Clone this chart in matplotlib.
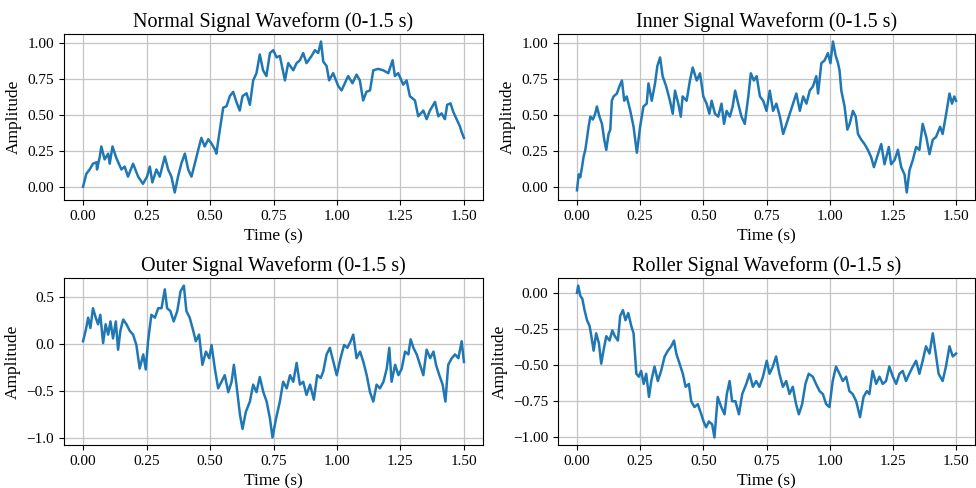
import matplotlib
matplotlib.use("Agg")
import matplotlib.pyplot as plt

plt.rcParams['font.family'] = ['Liberation Serif', 'DejaVu Serif']

titles = ["Normal Signal Waveform (0-1.5 s)", "Inner Signal Waveform (0-1.5 s)",
          "Outer Signal Waveform (0-1.5 s)", "Roller Signal Waveform (0-1.5 s)"]
xlabel = "Time (s)"
ylabel = "Amplitude"

normal_t = [0.000, 0.013, 0.026, 0.039, 0.053, 0.055, 0.066, 0.072, 0.085, 0.099, 0.105, 0.116, 0.131,
            0.151, 0.164, 0.177, 0.197, 0.217, 0.236, 0.252, 0.263, 0.273, 0.289, 0.302, 0.322, 0.335,
            0.348, 0.361, 0.374, 0.387, 0.401, 0.414, 0.427, 0.440, 0.457, 0.466, 0.479, 0.493, 0.506,
            0.519, 0.525, 0.539, 0.552, 0.565, 0.578, 0.591, 0.604, 0.617, 0.628, 0.644, 0.657, 0.670,
            0.683, 0.696, 0.709, 0.722, 0.736, 0.749, 0.762, 0.775, 0.795, 0.808, 0.828, 0.841, 0.854,
            0.867, 0.880, 0.900, 0.913, 0.926, 0.937, 0.946, 0.959, 0.969, 0.985, 1.005, 1.018, 1.031,
            1.044, 1.061, 1.077, 1.090, 1.103, 1.116, 1.130, 1.143, 1.162, 1.182, 1.202, 1.219, 1.228,
            1.241, 1.261, 1.274, 1.287, 1.307, 1.320, 1.340, 1.353, 1.366, 1.386, 1.399, 1.412, 1.425,
            1.434, 1.447, 1.458, 1.471, 1.484, 1.491, 1.500]
normal_v = [0.00, 0.09, 0.12, 0.16, 0.17, 0.12, 0.21, 0.28, 0.19, 0.23, 0.16, 0.28, 0.20,
            0.12, 0.14, 0.07, 0.16, 0.07, 0.02, 0.07, 0.14, 0.03, 0.12, 0.07, 0.21, 0.12,
            0.07, -0.04, 0.07, 0.16, 0.23, 0.12, 0.07, 0.16, 0.28, 0.34, 0.28, 0.33, 0.30,
            0.26, 0.23, 0.40, 0.55, 0.56, 0.63, 0.66, 0.59, 0.53, 0.63, 0.65, 0.57, 0.74,
            0.79, 0.92, 0.81, 0.77, 0.93, 0.95, 0.90, 0.91, 0.74, 0.86, 0.81, 0.86, 0.88,
            0.93, 0.86, 0.91, 0.95, 0.93, 1.01, 0.87, 0.84, 0.74, 0.79, 0.70, 0.67, 0.72,
            0.77, 0.72, 0.78, 0.74, 0.60, 0.66, 0.67, 0.81, 0.82, 0.81, 0.79, 0.88, 0.77,
            0.79, 0.71, 0.74, 0.63, 0.60, 0.49, 0.53, 0.47, 0.53, 0.59, 0.49, 0.51, 0.47,
            0.57, 0.58, 0.52, 0.47, 0.42, 0.38, 0.34]

inner_t = [0.000, 0.007, 0.013, 0.020, 0.026, 0.033, 0.039, 0.046, 0.053, 0.063, 0.072, 0.079, 0.089,
           0.099, 0.108, 0.116, 0.125, 0.132, 0.138, 0.145, 0.158, 0.168, 0.178, 0.187, 0.197, 0.211,
           0.224, 0.237, 0.250, 0.263, 0.276, 0.283, 0.296, 0.309, 0.318, 0.329, 0.339, 0.353, 0.368,
           0.379, 0.388, 0.401, 0.411, 0.418, 0.434, 0.447, 0.458, 0.474, 0.487, 0.500, 0.513, 0.524,
           0.533, 0.546, 0.559, 0.572, 0.582, 0.592, 0.605, 0.616, 0.626, 0.638, 0.651, 0.664, 0.678,
           0.688, 0.700, 0.711, 0.724, 0.737, 0.750, 0.763, 0.776, 0.789, 0.803, 0.816, 0.829, 0.842,
           0.855, 0.868, 0.882, 0.895, 0.908, 0.921, 0.934, 0.947, 0.954, 0.967, 0.980, 0.993, 1.003,
           1.013, 1.024, 1.033, 1.039, 1.046, 1.059, 1.070, 1.079, 1.092, 1.103, 1.112, 1.125, 1.138,
           1.151, 1.164, 1.175, 1.191, 1.204, 1.217, 1.234, 1.243, 1.257, 1.270, 1.283, 1.296, 1.305,
           1.316, 1.329, 1.342, 1.355, 1.368, 1.382, 1.395, 1.408, 1.421, 1.437, 1.447, 1.461, 1.474,
           1.484, 1.493, 1.500]
inner_v = [-0.02, 0.09, 0.07, 0.14, 0.21, 0.26, 0.33, 0.42, 0.49, 0.47, 0.51, 0.56, 0.49,
           0.44, 0.33, 0.26, 0.37, 0.40, 0.60, 0.63, 0.65, 0.70, 0.74, 0.60, 0.63, 0.53,
           0.42, 0.24, 0.42, 0.56, 0.58, 0.72, 0.60, 0.72, 0.84, 0.90, 0.77, 0.70, 0.60,
           0.51, 0.67, 0.58, 0.49, 0.63, 0.60, 0.74, 0.83, 0.74, 0.79, 0.63, 0.58, 0.51,
           0.60, 0.51, 0.49, 0.58, 0.44, 0.53, 0.49, 0.56, 0.67, 0.58, 0.49, 0.44, 0.63,
           0.79, 0.74, 0.77, 0.63, 0.60, 0.53, 0.67, 0.53, 0.58, 0.49, 0.37, 0.44, 0.51,
           0.58, 0.65, 0.53, 0.63, 0.58, 0.67, 0.70, 0.77, 0.65, 0.86, 0.88, 0.93, 0.86,
           1.01, 0.91, 0.86, 0.81, 0.67, 0.56, 0.40, 0.44, 0.53, 0.49, 0.37, 0.33, 0.30,
           0.26, 0.21, 0.14, 0.23, 0.30, 0.16, 0.28, 0.16, 0.19, 0.26, 0.14, 0.09, -0.035,
           0.12, 0.19, 0.28, 0.26, 0.44, 0.35, 0.23, 0.33, 0.35, 0.42, 0.37, 0.51, 0.65,
           0.58, 0.63, 0.60]

outer_t = [0.000, 0.011, 0.020, 0.029, 0.039, 0.050, 0.059, 0.068, 0.079, 0.089, 0.099, 0.108, 0.118,
           0.129, 0.138, 0.147, 0.158, 0.171, 0.184, 0.197, 0.210, 0.223, 0.237, 0.247, 0.256, 0.269,
           0.283, 0.296, 0.309, 0.322, 0.331, 0.344, 0.357, 0.371, 0.384, 0.397, 0.407, 0.420, 0.434,
           0.444, 0.457, 0.470, 0.484, 0.497, 0.506, 0.519, 0.532, 0.545, 0.558, 0.572, 0.585, 0.594,
           0.604, 0.618, 0.628, 0.641, 0.657, 0.670, 0.683, 0.696, 0.710, 0.723, 0.736, 0.746, 0.760,
           0.775, 0.788, 0.802, 0.815, 0.828, 0.841, 0.854, 0.867, 0.880, 0.894, 0.909, 0.922, 0.936,
           0.946, 0.959, 0.972, 0.986, 0.999, 1.014, 1.028, 1.041, 1.054, 1.064, 1.077, 1.091, 1.104,
           1.117, 1.130, 1.143, 1.156, 1.169, 1.183, 1.196, 1.206, 1.215, 1.229, 1.242, 1.255, 1.268,
           1.281, 1.290, 1.301, 1.314, 1.327, 1.340, 1.353, 1.367, 1.380, 1.390, 1.403, 1.416, 1.427,
           1.438, 1.452, 1.465, 1.478, 1.491, 1.500]
outer_v = [0.03, 0.15, 0.28, 0.17, 0.38, 0.28, 0.21, 0.31, 0.01, 0.21, 0.10, 0.24, 0.06,
           0.24, -0.06, 0.14, 0.26, 0.21, 0.14, 0.10, -0.01, -0.26, -0.11, -0.27, 0.03, 0.31,
           0.28, 0.38, 0.38, 0.58, 0.38, 0.35, 0.24, 0.35, 0.56, 0.62, 0.35, 0.28, 0.14,
           0.03, 0.10, -0.22, -0.08, -0.15, -0.01, -0.26, -0.47, -0.40, -0.33, -0.51, -0.40, -0.22,
           -0.43, -0.75, -0.90, -0.72, -0.61, -0.43, -0.51, -0.35, -0.51, -0.61, -0.79, -0.99, -0.79,
           -0.61, -0.40, -0.47, -0.33, -0.40, -0.20, -0.43, -0.40, -0.54, -0.43, -0.59, -0.33, -0.36,
           -0.29, -0.11, -0.04, -0.19, -0.33, -0.15, -0.01, -0.04, 0.03, 0.10, -0.15, -0.08, -0.19,
           -0.33, -0.51, -0.61, -0.43, -0.47, -0.40, -0.26, -0.04, -0.40, -0.22, -0.33, -0.26, -0.08,
           -0.11, 0.05, -0.04, -0.11, -0.22, -0.33, -0.06, -0.15, -0.08, -0.22, -0.33, -0.43, -0.61,
           -0.22, -0.15, -0.11, -0.15, 0.03, -0.19]

roller_t = [0.000, 0.005, 0.013, 0.021, 0.030, 0.040, 0.050, 0.057, 0.066, 0.076, 0.087, 0.096, 0.105,
            0.116, 0.129, 0.140, 0.150, 0.162, 0.171, 0.182, 0.192, 0.203, 0.215, 0.224, 0.235, 0.245,
            0.254, 0.264, 0.274, 0.285, 0.294, 0.307, 0.320, 0.333, 0.347, 0.360, 0.373, 0.384, 0.393,
            0.406, 0.419, 0.430, 0.443, 0.452, 0.465, 0.478, 0.492, 0.501, 0.511, 0.522, 0.535, 0.544,
            0.557, 0.571, 0.584, 0.593, 0.604, 0.614, 0.627, 0.641, 0.654, 0.670, 0.683, 0.696, 0.709,
            0.722, 0.736, 0.751, 0.762, 0.775, 0.788, 0.801, 0.815, 0.828, 0.841, 0.854, 0.867, 0.878,
            0.891, 0.904, 0.917, 0.933, 0.946, 0.960, 0.973, 0.986, 0.999, 1.012, 1.025, 1.039, 1.052,
            1.065, 1.078, 1.091, 1.105, 1.120, 1.134, 1.147, 1.157, 1.170, 1.184, 1.197, 1.210, 1.223,
            1.236, 1.250, 1.263, 1.276, 1.289, 1.302, 1.315, 1.329, 1.342, 1.355, 1.368, 1.381, 1.395,
            1.408, 1.418, 1.431, 1.447, 1.460, 1.474, 1.487, 1.500]
roller_v = [0.00, 0.05, -0.02, -0.04, -0.12, -0.19, -0.23, -0.30, -0.40, -0.28, -0.35, -0.49, -0.40,
            -0.30, -0.33, -0.26, -0.30, -0.33, -0.16, -0.12, -0.19, -0.14, -0.23, -0.28, -0.56, -0.58,
            -0.54, -0.63, -0.56, -0.72, -0.61, -0.51, -0.61, -0.54, -0.44, -0.40, -0.37, -0.33, -0.42,
            -0.49, -0.56, -0.65, -0.63, -0.75, -0.79, -0.77, -0.84, -0.89, -0.93, -0.89, -0.91, -1.00,
            -0.72, -0.79, -0.84, -0.70, -0.61, -0.75, -0.75, -0.84, -0.70, -0.63, -0.56, -0.65, -0.61,
            -0.65, -0.58, -0.47, -0.56, -0.51, -0.44, -0.56, -0.65, -0.61, -0.70, -0.65, -0.77, -0.84,
            -0.77, -0.63, -0.56, -0.58, -0.63, -0.68, -0.70, -0.77, -0.79, -0.61, -0.51, -0.56, -0.61,
            -0.58, -0.68, -0.70, -0.75, -0.86, -0.72, -0.68, -0.70, -0.54, -0.63, -0.58, -0.63, -0.61,
            -0.51, -0.58, -0.63, -0.56, -0.54, -0.61, -0.56, -0.51, -0.47, -0.56, -0.47, -0.37, -0.42,
            -0.28, -0.40, -0.56, -0.61, -0.51, -0.37, -0.44, -0.42]

series = [(normal_t, normal_v), (inner_t, inner_v), (outer_t, outer_v), (roller_t, roller_v)]

fig = plt.figure(figsize=(9.76, 4.88), dpi=100)
W, H = 976.0, 488.0
rects_px = [(64, 34, 419, 166), (558, 34, 417, 166), (64, 278, 419, 167), (558, 278, 417, 167)]

for (t, v), title, (x0, y0, w, h) in zip(series, titles, rects_px):
    ax = fig.add_axes([x0 / W, 1 - (y0 + h) / H, w / W, h / H])
    ax.plot(t, v, color='#1f77b4', linewidth=1.8)
    ax.set_title(title, fontsize=14.5, pad=5)
    ax.set_xlabel(xlabel, fontsize=12.5, labelpad=4)
    ax.set_ylabel(ylabel, fontsize=12.5)
    ax.set_xticks([0.0, 0.25, 0.5, 0.75, 1.0, 1.25, 1.5])
    ax.tick_params(labelsize=11)
    ax.grid(True, color='#c4c4c4', linewidth=0.9)

fig.savefig("out.png", dpi=100)
